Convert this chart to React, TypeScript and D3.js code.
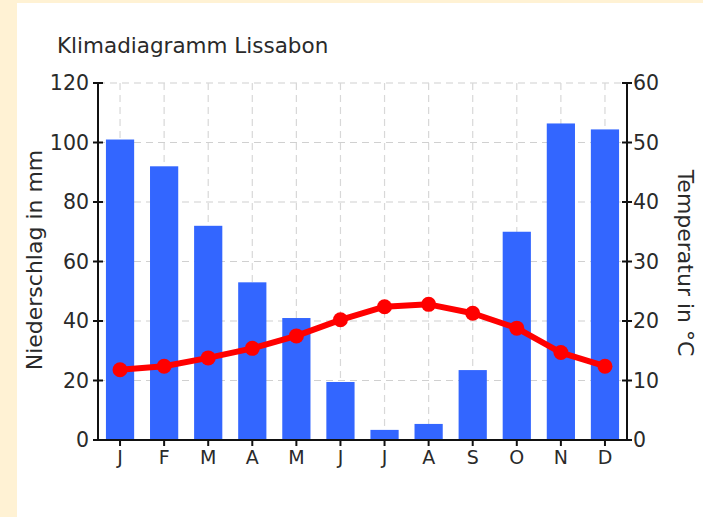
import * as React from 'react'
import * as d3 from 'd3'

const months = ['J', 'F', 'M', 'A', 'M', 'J', 'J', 'A', 'S', 'O', 'N', 'D']
const rain = [101, 92, 72, 53, 41, 19.5, 3.4, 5.4, 23.5, 70, 106.4, 104.4]
const temp = [11.8, 12.4, 13.8, 15.4, 17.5, 20.2, 22.4, 22.8, 21.3, 18.8, 14.7, 12.4]
const rainTicks = [0, 20, 40, 60, 80, 100, 120]
const tempTicks = [0, 10, 20, 30, 40, 50, 60]

const width = 703
const height = 517
const margin = {left: 98, right: 76, top: 83, bottom: 77}
const font = 'DejaVu Sans, Verdana, sans-serif'

const App = () => {
    const x0 = margin.left
    const x1 = width - margin.right
    const y0 = height - margin.bottom
    const y1 = margin.top

    const xScale = d3.scaleBand<number>()
                    .domain(d3.range(months.length))
                    .range([x0, x1])
                    .paddingInner(0.36)
                    .paddingOuter(0.18)
    const xMid = (i: number) => (xScale(i) as number) + xScale.bandwidth() / 2

    const yRain = d3.scaleLinear().domain([0, 120]).range([y0, y1])
    const yTemp = d3.scaleLinear().domain([0, 60]).range([y0, y1])

    const line = d3.line<number>()
                    .x((d, i) => xMid(i))
                    .y(d => yTemp(d))
                    .curve(d3.curveLinear)

    return (
        <svg width={width} height={height} style={{position: 'fixed', left: 0, top: 0}}>
            <rect x={0} y={0} width={width} height={height} fill="#fff2d4" />
            <rect x={17} y={3} width={width - 17} height={height - 3} fill="#ffffff" />

            <text x={57} y={53} fontFamily={font} fontSize={21.5} fill="#2a2a2a">Klimadiagramm Lissabon</text>

            {/* grid */}
            {rainTicks.filter(t => t > 0).map(t => (
                <line key={'h' + t} x1={x0} x2={x1} y1={yRain(t)} y2={yRain(t)}
                      stroke="#d0d0d0" strokeWidth={1.2} strokeDasharray="7,5" />
            ))}
            {months.map((m, i) => (
                <line key={'v' + i} x1={xMid(i)} x2={xMid(i)} y1={y1} y2={y0}
                      stroke="#d8d8d8" strokeWidth={1.2} strokeDasharray="7,5" />
            ))}

            {/* bars */}
            {rain.map((r, i) => (
                <rect key={'b' + i} x={xScale(i)} y={yRain(r)} width={xScale.bandwidth()}
                      height={y0 - yRain(r)} fill="#3366ff" />
            ))}

            {/* temperature */}
            <path d={line(temp) || ''} fill="none" stroke="#ff0000" strokeWidth={6} strokeLinejoin="round" />
            {temp.map((t, i) => (
                <circle key={'c' + i} cx={xMid(i)} cy={yTemp(t)} r={7.5} fill="#ff0000" />
            ))}

            {/* left axis */}
            <line x1={x0} x2={x0} y1={y1} y2={y0} stroke="#111" strokeWidth={2} />
            {rainTicks.map(t => (
                <g key={'l' + t}>
                    <line x1={x0 - 5} x2={x0 + 5} y1={yRain(t)} y2={yRain(t)} stroke="#111" strokeWidth={2} />
                    <text x={x0 - 9} y={yRain(t)} dy="0.36em" textAnchor="end"
                          fontFamily={font} fontSize={20.5} fill="#2a2a2a">{t}</text>
                </g>
            ))}

            {/* right axis */}
            <line x1={x1} x2={x1} y1={y1} y2={y0} stroke="#111" strokeWidth={2} />
            {tempTicks.map(t => (
                <g key={'r' + t}>
                    <line x1={x1 - 5} x2={x1 + 5} y1={yTemp(t)} y2={yTemp(t)} stroke="#111" strokeWidth={2} />
                    <text x={x1 + 6} y={yTemp(t)} dy="0.36em" textAnchor="start"
                          fontFamily={font} fontSize={20.5} fill="#2a2a2a">{t}</text>
                </g>
            ))}

            {/* bottom axis */}
            <line x1={x0} x2={x1} y1={y0} y2={y0} stroke="#111" strokeWidth={2} />
            {months.map((m, i) => (
                <g key={'x' + i}>
                    <line x1={xMid(i)} x2={xMid(i)} y1={y0} y2={y0 + 6} stroke="#111" strokeWidth={2} />
                    <text x={xMid(i)} y={y0 + 24} textAnchor="middle"
                          fontFamily={font} fontSize={19} fill="#2a2a2a">{m}</text>
                </g>
            ))}

            {/* axis titles */}
            <text transform={`translate(42, 260) rotate(-90)`} textAnchor="middle"
                  fontFamily={font} fontSize={22} fill="#2a2a2a">Niederschlag in mm</text>
            <text transform={`translate(678, 263) rotate(90)`} textAnchor="middle"
                  fontFamily={font} fontSize={22} fill="#2a2a2a">Temperatur in °C</text>
        </svg>
    )
}

export default App
